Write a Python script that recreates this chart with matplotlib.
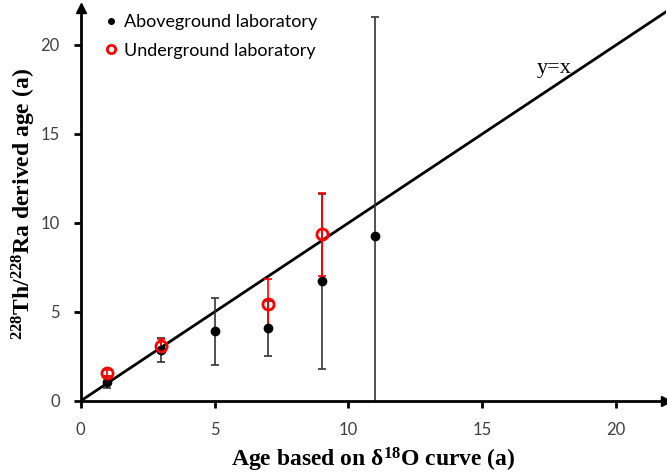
import matplotlib.pyplot as plt
import numpy as np

# data
x_above = [1, 3, 5, 7, 9, 11]
y_above = [1.07, 2.87, 3.92, 4.08, 6.72, 9.27]
err_above = [0.35, 0.68, 1.88, 1.53, 4.9, 12.3]

x_under = [1, 3, 7, 9]
y_under = [1.57, 3.09, 5.43, 9.36]
err_under = [0.15, 0.4, 1.4, 2.33]

ticks = [0, 5, 10, 15, 20]
xmax, ymax = 21.85, 22.1

plt.rcParams["mathtext.fontset"] = "custom"
plt.rcParams["mathtext.rm"] = "Liberation Serif"
plt.rcParams["mathtext.bf"] = "Liberation Serif:bold"

fig = plt.figure(figsize=(6.67, 4.75), dpi=100)
ax = fig.add_axes([0.121, 0.156, 0.877, 0.828])

line = np.array([0, 23])
ax.plot(line, line, color="black", lw=2, zorder=2)

# error bars first, markers on top
ax.errorbar(x_above, y_above, yerr=err_above, fmt="none", ecolor="#333333",
            elinewidth=1.2, capsize=3, capthick=1.2, zorder=2.5)
ax.errorbar(x_under, y_under, yerr=err_under, fmt="none", ecolor="red",
            elinewidth=1.2, capsize=3, capthick=1.2, zorder=2.6)
ax.plot(x_above, y_above, "o", color="black", ms=6, zorder=3,
        label="Aboveground laboratory")
ax.plot(x_under, y_under, "o", mfc="none", mec="red", mew=2, ms=8, zorder=4,
        label="Underground laboratory")

ax.set_xlim(0, xmax)
ax.set_ylim(0, ymax)
ax.set_xticks(ticks)
ax.set_yticks(ticks)

for s in ["top", "right"]:
    ax.spines[s].set_visible(False)
for s in ["left", "bottom"]:
    ax.spines[s].set_linewidth(2)
ax.tick_params(width=2, length=5, colors="black", labelcolor="#404040",
               labelsize=12, pad=10)
for lab in ax.get_xticklabels() + ax.get_yticklabels():
    lab.set_family("Lato")

# axis arrows
ax.plot(1, 0, ">k", ms=7, transform=ax.transAxes, clip_on=False)
ax.plot(0, 1, "^k", ms=7, transform=ax.transAxes, clip_on=False)

ax.set_xlabel(r"Age based on δ$\mathbf{^{18}}$O curve (a)",
              family="Liberation Serif", fontweight="bold", fontsize=17, labelpad=6)
ax.set_ylabel(r"$\mathbf{^{228}}$Th/$\mathbf{^{228}}$Ra derived age (a)",
              family="Liberation Serif", fontweight="bold", fontsize=17, labelpad=2)

ax.text(17.7, 18.7, "y=x", family="Liberation Serif", fontsize=16,
        ha="center", va="center")

leg = ax.legend(loc="upper left", bbox_to_anchor=(0.015, 1.025), frameon=False,
                prop={"family": "Lato", "size": 13}, handlelength=0.6,
                handletextpad=0.4, labelspacing=0.7)
leg.legend_handles[0].set_markersize(4)
leg.legend_handles[1].set_markersize(6)

fig.savefig("out.png", dpi=100)
